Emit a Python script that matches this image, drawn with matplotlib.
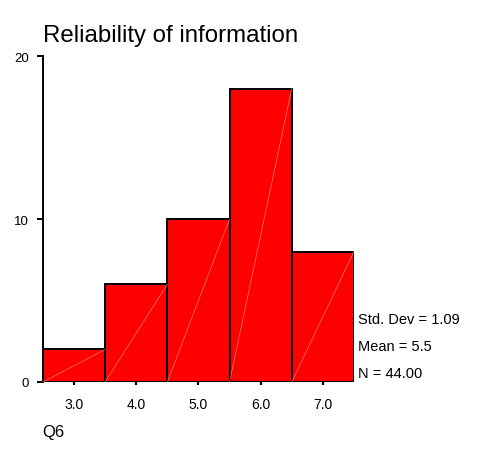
import matplotlib.pyplot as plt

plt.rcParams['font.family'] = ['Liberation Sans', 'DejaVu Sans']

# Histogram of Q6
centers = [3.0, 4.0, 5.0, 6.0, 7.0]
counts = [2, 6, 10, 18, 8]
tick_labels = ['3.0', '4.0', '5.0', '6.0', '7.0']
stats = ['Std. Dev = 1.09', 'Mean = 5.5', 'N = 44.00']
y_ticks = [0, 10, 20]


def main():
    fig = plt.figure(figsize=(4.92, 4.64), dpi=100)
    ax = fig.add_axes([0.0874, 0.1746, 0.632, 0.7024])

    ax.bar(centers, counts, width=1.0, color='#ff0000',
           edgecolor='black', linewidth=1.4, zorder=2)

    # faint diagonal streaks inside each bar (bottom left to top right)
    for c, h in zip(centers, counts):
        ax.plot([c - 0.5, c + 0.5], [0, h], color='#ff9a9a',
                linewidth=0.4, zorder=3)

    ax.set_xlim(2.5, 7.5)
    ax.set_ylim(0, 20)
    ax.set_xticks(centers)
    ax.set_xticklabels(tick_labels)
    ax.set_yticks(y_ticks)

    for s in ['top', 'right', 'bottom']:
        ax.spines[s].set_visible(False)
    ax.spines['left'].set_linewidth(1.4)

    ax.tick_params(axis='y', length=4, width=1.4, labelsize=9.5, pad=6)
    ax.tick_params(axis='x', length=2, width=1.6, labelsize=10, pad=9,
                   direction='out')

    fig.text(0.087, 0.922, 'Reliability of information', fontsize=17.3,
             ha='left', va='center')
    fig.text(0.085, 0.068, 'Q6', fontsize=12, ha='left', va='center')

    ys = [0.311, 0.252, 0.193]
    for s, yy in zip(stats, ys):
        fig.text(0.728, yy, s, fontsize=10.5, ha='left', va='center')

    fig.savefig('out.png', dpi=100)


if __name__ == "__main__":
    main()
